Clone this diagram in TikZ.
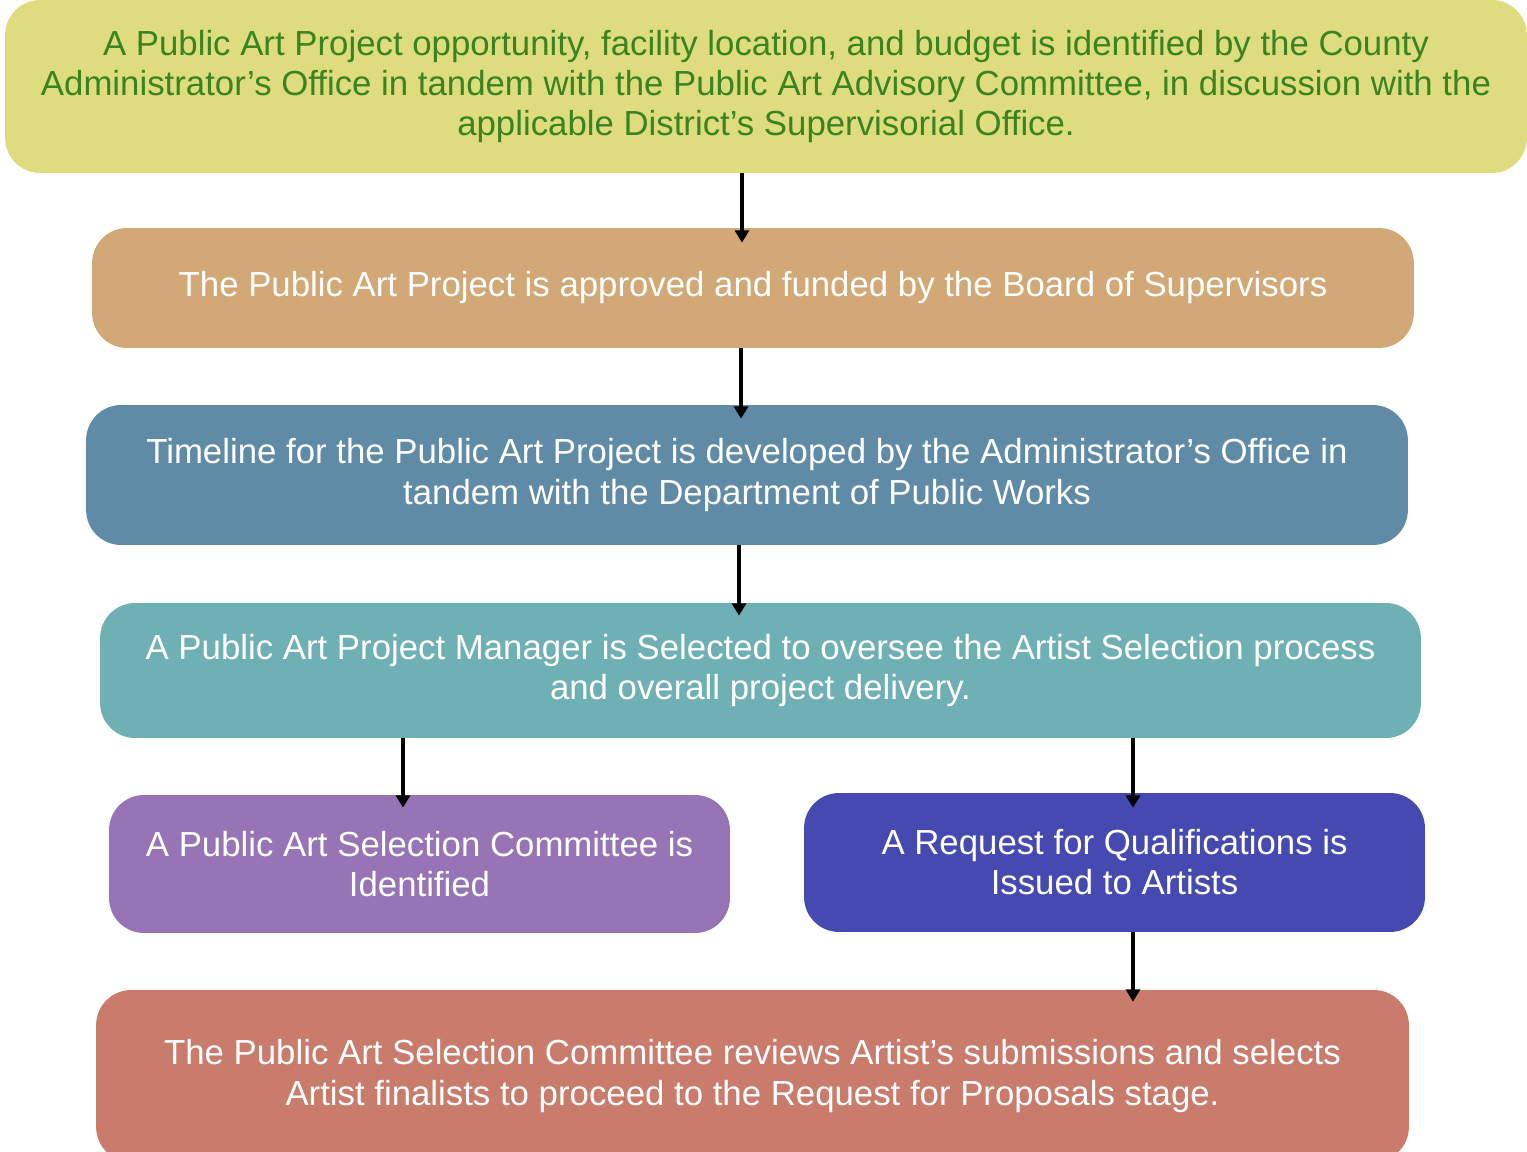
\documentclass[tikz,border=0pt]{standalone}
\usepackage{fontspec}
\setmainfont{Liberation Sans}
\usetikzlibrary{arrows.meta}

\definecolor{yellowbox}{RGB}{222,220,126}
\definecolor{greentext}{RGB}{58,132,30}
\definecolor{tanbox}{RGB}{210,168,118}
\definecolor{slatebox}{RGB}{96,139,166}
\definecolor{tealbox}{RGB}{111,176,181}
\definecolor{purplebox}{RGB}{150,116,181}
\definecolor{bluebox}{RGB}{70,74,176}
\definecolor{salmonbox}{RGB}{201,123,108}

\tikzset{
box/.style={rounded corners=0.7cm, inner sep=0pt, align=center, text=white,
  font=\fontsize{19.8}{22.8}\selectfont},
flow/.style={line width=2.3pt, -{Triangle[width=8pt,length=7pt]}}
}

\begin{document}
\begin{tikzpicture}[x=0.02cm,y=-0.02cm]
\useasboundingbox (0,0) rectangle (1527,1152);
\clip (0,0) rectangle (1527,1152);

% the steps, top to bottom
\node[box, fill=yellowbox, text=greentext, minimum width=30.44cm, minimum height=3.46cm] (s1) at (766,86.5)
  {A Public Art Project opportunity, facility location, and budget is identified by the County\\
   Administrator’s Office in tandem with the Public Art Advisory Committee, in discussion with the\\
   applicable District’s Supervisorial Office.};
\node[box, fill=tanbox, minimum width=26.44cm, minimum height=2.4cm] (s2) at (753,288)
  {The Public Art Project is approved and funded by the Board of Supervisors};
\node[box, fill=slatebox, minimum width=26.44cm, minimum height=2.8cm] (s3) at (747,475)
  {Timeline for the Public Art Project is developed by the Administrator’s Office in\\
   tandem with the Department of Public Works};
\node[box, fill=tealbox, minimum width=26.42cm, minimum height=2.7cm] (s4) at (760.5,670.5)
  {A Public Art Project Manager is Selected to oversee the Artist Selection process\\
   and overall project delivery.};
\node[box, fill=purplebox, minimum width=12.42cm, minimum height=2.76cm] (s5) at (419.5,864)
  {A Public Art Selection Committee is\\ Identified};
\node[box, fill=bluebox, minimum width=12.42cm, minimum height=2.78cm] (s6) at (1114.5,862.5)
  {A Request for Qualifications is\\ Issued to Artists};
\node[box, fill=salmonbox, minimum width=26.26cm, minimum height=3.44cm] (s7) at (752.5,1076)
  {The Public Art Selection Committee reviews Artist’s submissions and selects\\
   Artist finalists to proceed to the Request for Proposals stage.};

% arrows
\draw[flow] (s1.south -| 742,0) -- ([yshift=-0.3cm]s2.north -| 742,0);
\draw[flow] (s2.south -| 741,0) -- ([yshift=-0.28cm]s3.north -| 741,0);
\draw[flow] (s3.south -| 739,0) -- ([yshift=-0.26cm]s4.north -| 739,0);
\draw[flow] (s4.south -| 403,0) -- ([yshift=-0.26cm]s5.north -| 403,0);
\draw[flow] (s4.south -| 1133,0) -- ([yshift=-0.3cm]s6.north -| 1133,0);
\draw[flow] (s6.south -| 1133,0) -- ([yshift=-0.24cm]s7.north -| 1133,0);
\end{tikzpicture}
\end{document}
